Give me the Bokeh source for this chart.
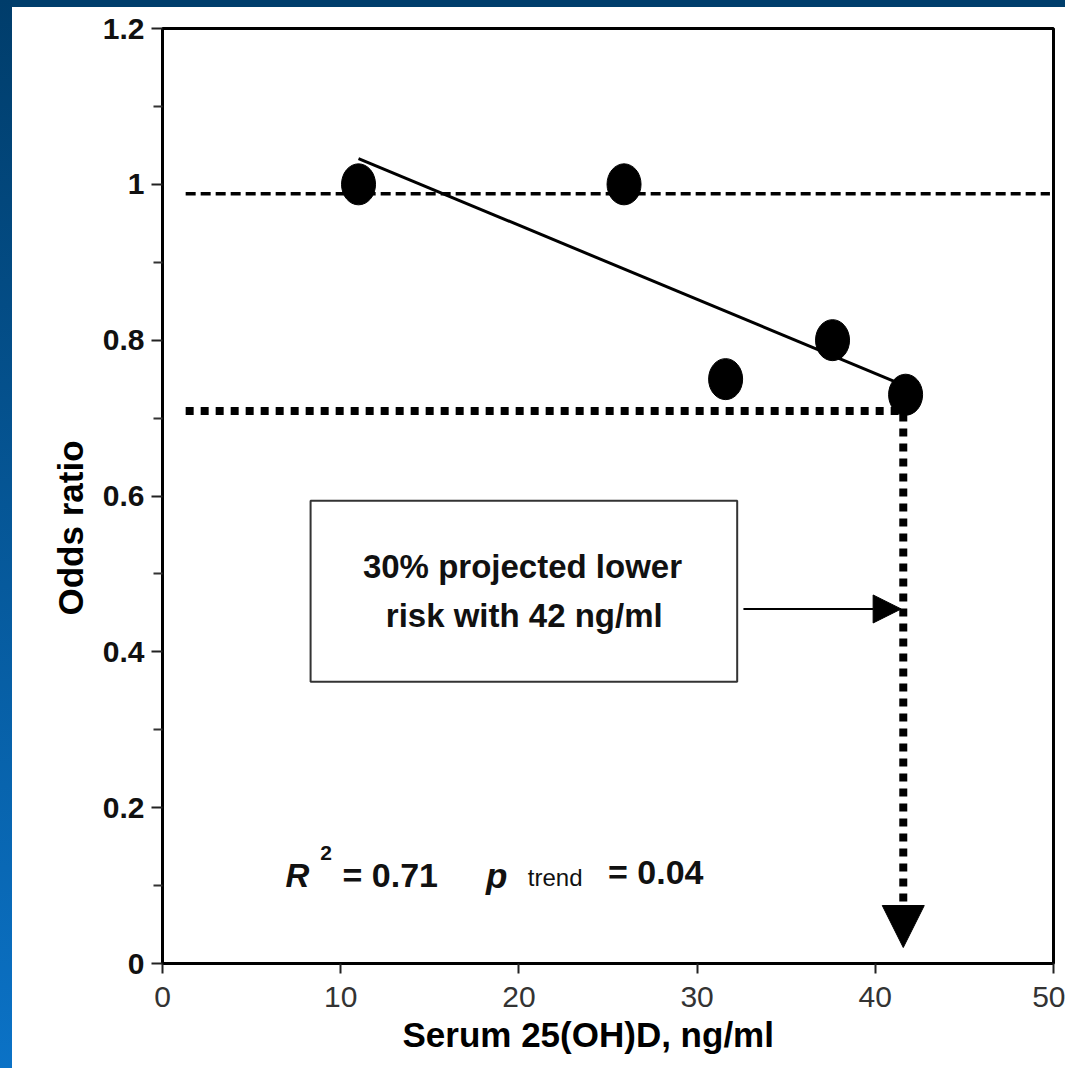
from bokeh.plotting import figure
from bokeh.models import Range1d, FixedTicker, Label, Arrow, NormalHead, Title
from bokeh.embed import file_html
from bokeh.resources import INLINE

# ---- data ----
serum = [11.0, 25.9, 31.6, 37.6, 41.7]          # Serum 25(OH)D, ng/ml
odds = [1.0, 1.0, 0.75, 0.80, 0.73]             # Odds ratio
trend_x = [11.0, 41.3]                          # fitted trend line
trend_y = [1.033, 0.745]
ref_x = [1.3, 49.8]                             # reference (OR ~ 1) dashed line
ref_y = [0.988, 0.988]
proj_x = [1.3, 41.57, 41.57]                    # projection (dotted)
proj_y = [0.709, 0.709, 0.074]
x_ticks = [0, 10, 20, 30, 40, 50]
y_ticks = [0, 0.2, 0.4, 0.6, 0.8, 1.0, 1.2]
y_minor = [0.1, 0.3, 0.5, 0.7, 0.9, 1.1]
y_tick_labels = ["0", "0.2", "0.4", "0.6", "0.8", "1", "1.2"]

FONT = "Liberation Sans"

p = figure(width=1065, height=1068, output_backend="svg", toolbar_location=None,
           x_range=Range1d(0, 50), y_range=Range1d(0, 1.2),
           min_border_left=162, min_border_right=12, min_border_top=28, min_border_bottom=105)
p.styles = {
    "background": "linear-gradient(to bottom, #003d6b, #0b72c6) 0 0 / 12px 100% no-repeat, "
                  "linear-gradient(#003e6c, #003e6c) 0 0 / 100% 7px no-repeat, #ffffff",
}
p.border_fill_color = None
p.background_fill_color = "white"
p.outline_line_color = "black"
p.outline_line_width = 3
p.grid.visible = False

# axes
for ax in (p.xaxis[0], p.yaxis[0]):
    ax.axis_line_width = 3
    ax.axis_line_color = "black"
    ax.major_tick_line_width = 2
    ax.major_tick_line_color = "#222222"
    ax.major_tick_in = 0
    ax.minor_tick_in = 0
    ax.major_label_text_font = FONT

p.xaxis.ticker = FixedTicker(ticks=x_ticks)
p.xaxis.major_tick_out = 10
p.xaxis.major_label_text_font_size = "30px"
p.xaxis.major_label_text_color = "#333333"
p.xaxis.major_label_standoff = 13

p.yaxis.ticker = FixedTicker(ticks=y_ticks, minor_ticks=y_minor)
p.yaxis.major_label_overrides = {t: l for t, l in zip(y_ticks, y_tick_labels)}
p.yaxis.major_tick_out = 11
p.yaxis.minor_tick_out = 9
p.yaxis.minor_tick_line_width = 2
p.yaxis.minor_tick_line_color = "#333333"
p.yaxis.major_label_text_font_size = "30px"
p.yaxis.major_label_text_font_style = "bold"
p.yaxis.major_label_text_color = "#111111"
p.yaxis.major_label_standoff = 7

# axis titles as side titles (so they can be offset like the original)
p.add_layout(Title(text="Serum 25(OH)D, ng/ml", align="left", offset=240, standoff=7,
                   text_font=FONT, text_font_style="bold", text_font_size="35px",
                   text_color="black"), "below")
p.add_layout(Title(text="Odds ratio", align="left", offset=348, standoff=19,
                   text_font=FONT, text_font_style="bold", text_font_size="35px",
                   text_color="black"), "left")

# reference dashed line, trend line, projection dotted line
p.line(ref_x, ref_y, line_color="black", line_width=3.5, line_dash="10 5")
p.line(trend_x, trend_y, line_color="black", line_width=3)
p.line(proj_x, proj_y, line_color="black", line_width=8, line_dash="8 7", line_join="miter")

# points (ellipses)
p.ellipse(serum, odds, width=34, height=41, width_units="screen", height_units="screen",
          fill_color="black", line_color="black")

# annotation box
p.quad(left=[8.31], right=[32.25], top=[0.594], bottom=[0.3615],
       fill_color="white", line_color="#333333", line_width=2)
p.add_layout(Label(x=20.2, y=0.509, text="30% projected lower", text_align="center",
                   text_baseline="middle", text_font=FONT, text_font_style="bold",
                   text_font_size="33px", text_color="#111111"))
p.add_layout(Label(x=20.3, y=0.447, text="risk with 42 ng/ml", text_align="center",
                   text_baseline="middle", text_font=FONT, text_font_style="bold",
                   text_font_size="33px", text_color="#111111"))

# arrows
p.add_layout(Arrow(end=NormalHead(size=28, fill_color="black", line_color="black"),
                   x_start=32.6, y_start=0.455, x_end=41.45, y_end=0.455,
                   line_width=2, line_color="black"))
p.add_layout(Arrow(end=NormalHead(size=42, fill_color="black", line_color="black"),
                   x_start=41.57, y_start=0.09, x_end=41.57, y_end=0.0205,
                   line_alpha=0))

# statistics text
def lab(x, y, t, size, style="bold"):
    p.add_layout(Label(x=x, y=y, text=t, text_align="left", text_baseline="alphabetic",
                       text_font=FONT, text_font_style=style,
                       text_font_size=size, text_color="#111111"))

lab(6.9, 0.113, "R", "33px", "bold italic")
lab(8.85, 0.142, "2", "21px", "bold")
lab(10.1, 0.113, "= 0.71", "34px", "bold")
lab(18.15, 0.113, "p", "35px", "bold italic")
lab(20.5, 0.110, "trend", "24px", "normal")
lab(25.0, 0.117, "= 0.04", "34px", "bold")

open("out.html", "w").write(file_html(p, INLINE))
